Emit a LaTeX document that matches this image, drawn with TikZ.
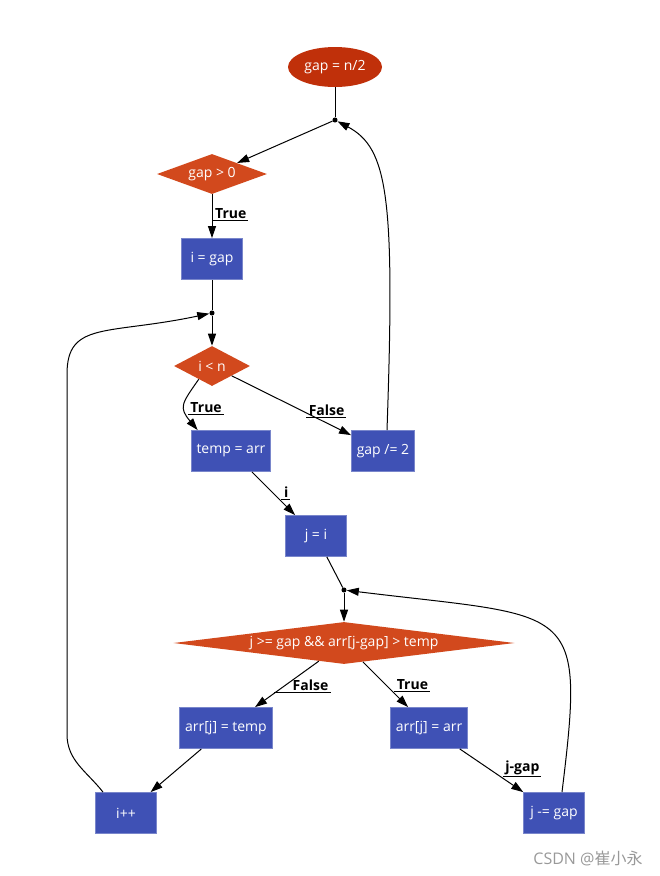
\documentclass[tikz,border=0pt]{standalone}
\usepackage{fontspec}
\setmainfont{Open Sans}
\newfontfamily\cjk{Noto Sans CJK SC}
\usetikzlibrary{positioning,shapes.geometric,arrows.meta}

\definecolor{startred}{HTML}{C0300A}
\definecolor{condorange}{HTML}{D2491D}
\definecolor{stepblue}{HTML}{3F51B5}
\definecolor{stepedge}{HTML}{7986CB}

\newcommand{\utext}[1]{\underline{\hspace{2pt}#1\hspace{1.5pt}}}

\tikzset{
  every node/.style={font=\fontsize{10.5}{12}\selectfont},
  startnode/.style={ellipse, fill=startred, text=white, inner sep=0pt,
    minimum width=70.5pt, minimum height=30pt},
  cond/.style={diamond, fill=condorange, text=white, inner sep=0pt,
    minimum height=30pt},
  stepbox/.style={rectangle, fill=stepblue, draw=stepedge, line width=0.6pt,
    text=white, inner xsep=4pt, minimum height=30.75pt, minimum width=45.75pt},
  junc/.style={circle, fill=black, inner sep=0pt, minimum size=3.8pt},
  flow/.style={line width=0.75pt, -{Triangle[length=9pt,width=6pt]}},
  plain/.style={line width=0.75pt},
  elabel/.style={font=\bfseries\fontsize{10.5}{12}\selectfont, anchor=south west,
    inner sep=0pt},
  watermark/.style={font=\fontsize{12}{14}\selectfont, text=black!40},
}

\begin{document}
\begin{tikzpicture}[on grid]
    \node[startnode] (start) at (251.25pt,-50.25pt) {gap = n/2};
    \useasboundingbox ([shift={(-251.25pt,50.25pt)}]start.center) rectangle ++(495pt,-657pt);

    \node[junc, below=39.75pt of start] (dot1) {};
    \node[cond, below left=40.5pt and 92.25pt of dot1, shape aspect=2.75, minimum width=82.5pt] (gapc) {gap > 0};
    \node[stepbox, below=63.75pt of gapc] (igap) {i = gap};
    \node[junc, below=40.5pt of igap] (dot2) {};
    \node[cond, below=39.75pt of dot2, shape aspect=1.9, minimum width=57pt] (iltn) {i < n};
    \node[stepbox, below right=63.75pt and 14.25pt of iltn] (temp) {temp = arr};
    \node[stepbox, below right=63.75pt and 128.25pt of iltn] (half) {gap /= 2};
    \node[stepbox, below right=63.75pt and 63.75pt of temp] (jeqi) {j = i};
    \node[junc, below right=40.5pt and 21pt of jeqi] (dot3) {};
    \node[cond, below=39.75pt of dot3, shape aspect=8, minimum width=255.75pt, minimum height=31.5pt] (inner) {j >= gap \&\& arr[j-gap] > temp};
    \node[stepbox, below left=63.75pt and 88.5pt of inner] (settemp) {arr[j] = temp};
    \node[stepbox, below right=63.75pt and 63.75pt of inner] (setarr) {arr[j] = arr};
    \node[stepbox, below left=63.75pt and 75pt of settemp] (incr) {i++};
    \node[stepbox, below right=63.75pt and 93.75pt of setarr] (jdec) {j -= gap};

    \node[watermark, below right=33.75pt and 25.5pt of jdec] (mark) {CSDN @{\cjk 崔小永}};

    % outer loop
    \draw[plain] (start) -- (dot1);
    \draw[flow] (dot1) -- (gapc);
    \draw[flow] (gapc) -- node[elabel, pos=0.62] {\utext{True}} (igap);
    \draw[plain] (igap) -- (dot2);
    \draw[flow] (dot2) -- (iltn);
    \draw[flow] (iltn.225) to[out=235, in=130, looseness=1.5]
        node[elabel, pos=0.75] {\utext{True}} ([xshift=-25pt]temp.north);
    \draw[flow] (iltn) -- node[elabel, pos=0.72, xshift=-9pt] {\utext{False}} (half);
    \draw[flow] ([xshift=3pt]half.north) .. controls +(88:175pt) and +(-28:45pt) .. (dot1);

    % inner loop
    \draw[flow] (temp) -- node[elabel, pos=0.67] {\utext{i}} (jeqi);
    \draw[plain] (jeqi) -- (dot3);
    \draw[flow] (dot3) -- (inner);
    \draw[flow] (inner) -- node[elabel, pos=0.71] {\underline{\hspace{14pt}False\hspace{2pt}}} (settemp);
    \draw[flow] (inner) -- node[elabel, pos=0.68] {\utext{True}} (setarr);
    \draw[flow] (settemp) -- (incr);
    \draw[flow] (setarr) -- node[elabel, pos=0.67] {\utext{j-gap}} (jdec);
    \draw[flow] ([xshift=6pt]jdec.north) .. controls +(83:145pt) and +(-7:174pt) .. (dot3);
    \draw[flow] ([xshift=-17.25pt]incr.north) to[out=128, in=-90] ++(-27pt,43.5pt)
        -- ++(0,270pt) .. controls +(90:40pt) and +(-168:80pt) .. (dot2);
\end{tikzpicture}
\end{document}
